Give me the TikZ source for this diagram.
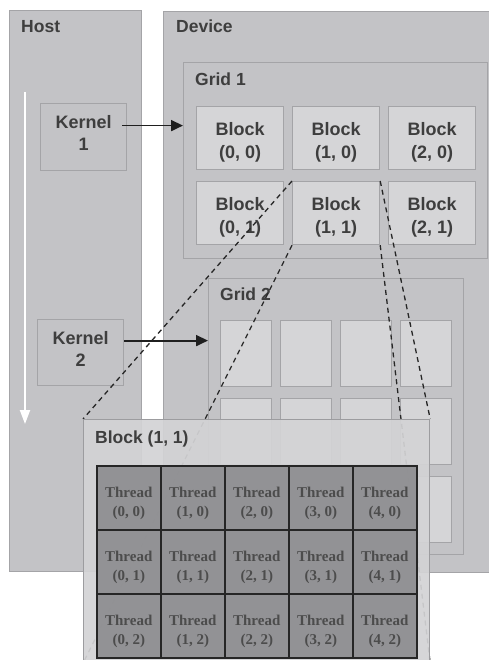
\documentclass[tikz,border=0pt]{standalone}
\usepackage{fontspec}
\setmainfont{Liberation Sans}
\newfontfamily\threadfont{Liberation Serif}
\usetikzlibrary{arrows.meta}
\pgfdeclarelayer{front}
\pgfsetlayers{main,front}
\definecolor{boxfill}{HTML}{C3C3C6}
\definecolor{boxedge}{HTML}{A4A4A7}
\definecolor{cellfill}{HTML}{D5D5D7}
\definecolor{zoomfill}{HTML}{D3D3D5}
\definecolor{zoomedge}{HTML}{9C9C9F}
\definecolor{threadfill}{HTML}{8F8F92}
\definecolor{labelgray}{HTML}{3E3E3E}
\newcommand{\topstrut}{\rule{0pt}{22pt}}
\newcommand{\lowstrut}{\rule[-8pt]{0pt}{8pt}}
\tikzset{
  area/.style={draw=boxedge, fill=boxfill, line width=1.2pt, inner sep=0pt, anchor=north west},
  title/.style={anchor=base west, inner sep=0pt, text=labelgray, font=\bfseries\fontsize{17.5}{21}\selectfont},
  blockbox/.style={draw=boxedge, fill=cellfill, line width=1.2pt, inner sep=0pt, anchor=north west,
    minimum width=87pt, minimum height=63pt, align=center, text=labelgray, font=\bfseries\fontsize{18}{23}\selectfont},
  kernelbox/.style={blockbox, fill=boxfill, minimum width=86pt, minimum height=67pt, font=\bfseries\fontsize{18}{22}\selectfont},
  emptycell/.style={draw=boxedge, fill=cellfill, line width=1.2pt, inner sep=0pt, anchor=north west,
    minimum width=51pt, minimum height=66pt},
  threadbox/.style={draw=black!85, fill=threadfill, fill opacity=0.95, text opacity=1, line width=1.5pt, inner sep=0pt,
    anchor=north west, minimum size=64pt, align=center, text=black!70, font=\threadfont\bfseries\fontsize{15}{19.5}\selectfont},
  launch/.style={draw=black!88, line width=1.8pt, -{Triangle[width=11pt,length=12pt]}},
  zoomline/.style={draw=black!85, line width=1.3pt, dash pattern=on 5pt off 4pt}
}
\begin{document}
\begin{tikzpicture}[x=1pt,y=-1pt]
    \useasboundingbox (0,0) rectangle (488,660);
    % Host and device
    \node[area, minimum width=132pt, minimum height=561pt] (host) at (9,10) {};
    \node[area, minimum width=340pt, minimum height=561pt] (device) at (163,11) {};
    \node[title] (hostlabel) at (21,33) {Host};
    \node[title] (devicelabel) at (176,33) {Device};

    % Time flow on the host
    \coordinate (flowtop) at (25,92);
    \coordinate (flowend) at (25,424);
    \draw[white, line width=2pt, -{Triangle[width=10pt,length=14pt]}] (flowtop) -- (flowend);

    % Kernels
    \node[kernelbox] (kern1) at (40,103) {Kernel\\1\lowstrut};
    \node[kernelbox, minimum height=66pt] (kern2) at (37,319) {Kernel\\2\lowstrut};

    % Grid 1 with its blocks
    \node[area, minimum width=304pt, minimum height=196pt] (grid1) at (183,62) {};
    \node[title] (grid1label) at (195,86) {Grid 1};
    \foreach \c in {0,1,2}
    \foreach \r in {0,1}
    \node[blockbox] (b\c\r) at ({196+96*\c},{106+75*\r}) {\topstrut Block\\(\c, \r)};

    % Grid 2 with its blocks
    \node[area, minimum width=255pt, minimum height=276pt] (grid2) at (208,278) {};
    \node[title] (grid2label) at (220,300) {Grid 2};
    \foreach \c in {0,...,3}
    \foreach \r in {0,1,2}
    \node[emptycell] (g\c\r) at ({220+60*\c},{320+78*\r}) {};

    % Kernel launches
    \draw[launch] ([xshift=-5pt,yshift=11.5pt]kern1.east) -- ([yshift=11.5pt]kern1.east -| grid1.west);
    \draw[launch] ([yshift=12pt]kern2.east) -- ([yshift=12pt]kern2.east -| grid2.west);

    % Zoom on block (1, 1)
    \begin{pgfonlayer}{front}
    \node[area, draw=zoomedge, fill=zoomfill, fill opacity=0.93, minimum width=346pt, minimum height=243pt] (zoom) at (83,419) {};
    \node[title] (zoomlabel) at (95,443) {Block (1, 1)};
    \foreach \c in {0,...,4}
    \foreach \r in {0,1,2}
    \node[threadbox] (t\c\r) at ({96+64*\c},{465+64*\r}) {\topstrut Thread\\(\c, \r)};
    \end{pgfonlayer}

    \draw[zoomline] (b11.north west) -- (zoom.north west);
    \draw[zoomline] (b11.south west) -- (zoom.south west);
    \draw[zoomline] (b11.north east) -- (zoom.north east);
    \draw[zoomline] (b11.south east) -- (zoom.south east);
\end{tikzpicture}
\end{document}
